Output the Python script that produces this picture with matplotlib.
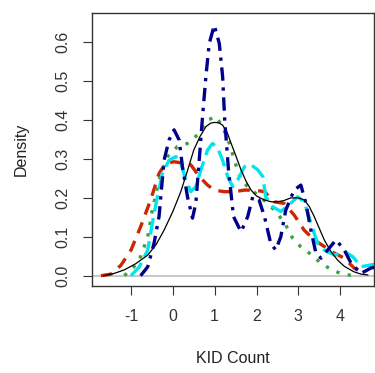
import matplotlib
matplotlib.use("Agg")
import matplotlib.pyplot as plt

plt.rcParams['font.family'] = ['Liberation Sans', 'DejaVu Sans']

# Black solid curve
black_x = [-1.65, -1.4, -1.16, -0.9, -0.6, -0.4, -0.21, 0.0, 0.19, 0.35, 0.5, 0.65, 0.79, 0.9, 0.99, 1.1, 1.19, 1.3, 1.39, 1.5, 1.63, 1.75, 1.87, 2.0, 2.18, 2.35, 2.5, 2.65, 2.82, 3.0, 3.14, 3.26, 3.38, 3.5, 3.62, 3.78, 3.94, 4.1, 4.33, 4.5, 4.66]
black_y = [0.0, 0.006, 0.015, 0.03, 0.053, 0.08, 0.117, 0.165, 0.216, 0.27, 0.323, 0.358, 0.383, 0.392, 0.394, 0.393, 0.387, 0.368, 0.341, 0.31, 0.272, 0.243, 0.22, 0.205, 0.195, 0.19, 0.19, 0.193, 0.2, 0.2, 0.195, 0.178, 0.152, 0.122, 0.092, 0.062, 0.04, 0.024, 0.01, 0.004, 0.002]

# Blue dot-dash curve
blue_x = [-0.77, -0.6, -0.45, -0.33, -0.21, -0.09, 0.03, 0.15, 0.23, 0.35, 0.47, 0.55, 0.63, 0.71, 0.79, 0.87, 0.99, 1.11, 1.19, 1.24, 1.33, 1.45, 1.63, 1.79, 1.91, 2.06, 2.19, 2.34, 2.46, 2.58, 2.7, 2.9, 3.06, 3.18, 3.3, 3.42, 3.54, 3.7, 3.9, 4.1, 4.26, 4.5, 4.74, 4.85]
blue_y = [0.0, 0.023, 0.083, 0.152, 0.297, 0.349, 0.375, 0.349, 0.28, 0.203, 0.148, 0.187, 0.297, 0.409, 0.512, 0.597, 0.644, 0.597, 0.512, 0.4, 0.272, 0.152, 0.113, 0.152, 0.203, 0.195, 0.152, 0.083, 0.066, 0.1, 0.169, 0.22, 0.233, 0.186, 0.117, 0.058, 0.045, 0.066, 0.092, 0.066, 0.032, 0.006, 0.02, 0.022]

# Red dashed curve
red_x = [-1.72, -1.48, -1.24, -1.0, -0.77, -0.53, -0.33, -0.17, 0.03, 0.27, 0.43, 0.63, 0.83, 0.99, 1.23, 1.47, 1.71, 1.95, 2.19, 2.42, 2.66, 2.9, 3.14, 3.38, 3.62, 3.86, 4.1, 4.34, 4.58]
red_y = [0.0, 0.004, 0.027, 0.066, 0.126, 0.195, 0.263, 0.289, 0.293, 0.289, 0.285, 0.255, 0.233, 0.22, 0.216, 0.216, 0.22, 0.22, 0.216, 0.19, 0.186, 0.156, 0.117, 0.092, 0.075, 0.058, 0.045, 0.019, 0.006]

# Green dotted curve
green_x = [-1.16, -0.93, -0.77, -0.6, -0.49, -0.33, -0.13, 0.11, 0.35, 0.59, 0.83, 1.03, 1.19, 1.35, 1.47, 1.63, 1.79, 2.03, 2.27, 2.5, 2.7, 2.86, 3.05, 3.3, 3.54, 3.74, 4.0, 4.3]
green_y = [0.0, 0.023, 0.049, 0.1, 0.169, 0.246, 0.306, 0.332, 0.34, 0.362, 0.4, 0.409, 0.383, 0.34, 0.297, 0.246, 0.229, 0.207, 0.186, 0.16, 0.13, 0.097, 0.075, 0.055, 0.032, 0.019, 0.006, 0.0]

# Cyan long-dash curve
cyan_x = [-1.0, -0.8, -0.6, -0.49, -0.37, -0.25, -0.09, 0.07, 0.19, 0.31, 0.43, 0.55, 0.67, 0.83, 0.95, 1.07, 1.19, 1.31, 1.43, 1.55, 1.71, 1.87, 2.03, 2.15, 2.22, 2.39, 2.58, 2.78, 2.98, 3.14, 3.3, 3.46, 3.62, 3.86, 4.1, 4.3, 4.5, 4.7, 4.86]
cyan_y = [0.0, 0.023, 0.066, 0.135, 0.203, 0.263, 0.297, 0.306, 0.289, 0.246, 0.216, 0.229, 0.272, 0.323, 0.34, 0.328, 0.297, 0.255, 0.229, 0.246, 0.28, 0.285, 0.272, 0.255, 0.203, 0.177, 0.165, 0.182, 0.203, 0.19, 0.135, 0.083, 0.066, 0.053, 0.062, 0.049, 0.023, 0.027, 0.03]

x_ticks = [-1, 0, 1, 2, 3, 4]
y_ticks = [0.0, 0.1, 0.2, 0.3, 0.4, 0.5, 0.6]
y_tick_labels = ["0.0", "0.1", "0.2", "0.3", "0.4", "0.5", "0.6"]

fig = plt.figure(figsize=(3.75, 3.73), dpi=100)
ax = fig.add_axes([0.2445, 0.2332, 0.753, 0.7327])

ax.axhline(0, color="#bebebe", lw=1.2, zorder=1)
ax.plot(black_x, black_y, color="black", lw=0.9, zorder=3)
ax.plot(blue_x, blue_y, color="#00008B", lw=2.4, dashes=(4, 2, 1, 2), zorder=4)
ax.plot(red_x, red_y, color="#CD2600", lw=2.4, dashes=(3.5, 2.5), zorder=2)
ax.plot(green_x, green_y, color="#3CA03C", lw=2.4, dashes=(1, 2.5), zorder=2)
ax.plot(cyan_x, cyan_y, color="#00E5EE", lw=2.4, dashes=(5, 2), zorder=2)

ax.set_xlim(-1.94, 4.81)
ax.set_ylim(-0.0265, 0.676)
ax.set_xticks(x_ticks)
ax.set_xticklabels([str(v) for v in x_ticks])
ax.set_yticks(y_ticks)
ax.set_yticklabels(y_tick_labels, rotation=90, va="center")
ax.tick_params(direction="out", length=6.5, width=0.8, colors="#333333", labelsize=11.5)
ax.tick_params(axis="x", pad=10)
ax.tick_params(axis="y", pad=9)
for s in ax.spines.values():
    s.set_color("#333333")
    s.set_linewidth(1.0)
ax.set_xlabel("KID Count", fontsize=11.5, color="#222222")
ax.set_ylabel("Density", fontsize=11.5, color="#222222")
ax.xaxis.label.set_va("center")
ax.yaxis.label.set_va("center")
ax.xaxis.set_label_coords(0.5, -0.265)
ax.yaxis.set_label_coords(-0.2504, 0.5)

fig.savefig("out.png", dpi=100)
